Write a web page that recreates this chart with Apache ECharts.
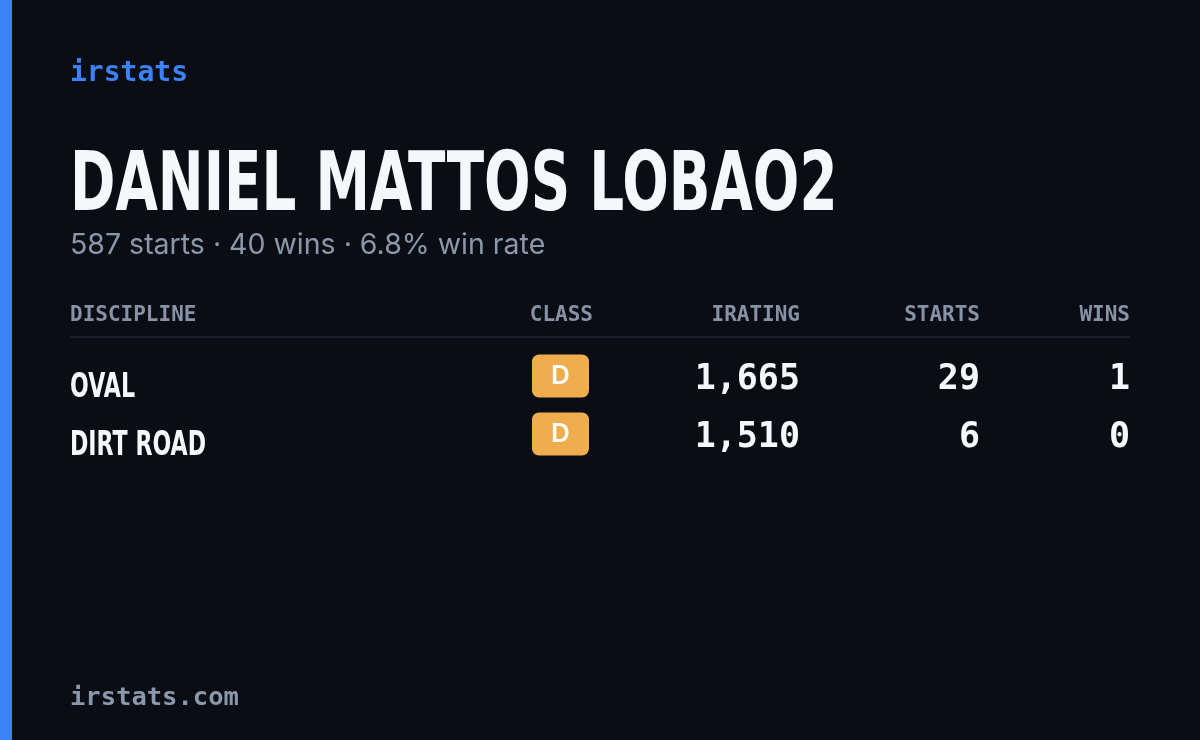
<!DOCTYPE html>
<html><head><meta charset="utf-8">
<script src="https://cdn.jsdelivr.net/npm/echarts@6/dist/echarts.min.js"></script>
<style>html,body{margin:0;padding:0;background:#0a0d14}#c{width:1200px;height:740px}</style>
</head><body><div id="c"></div>
<script>
const driverName = 'DANIEL MATTOS LOBAO2';
const summary = '587 starts · 40 wins · 6.8% win rate';
const columns = ['DISCIPLINE','CLASS','IRATING','STARTS','WINS'];
const disciplines = ['OVAL','DIRT ROAD'];
const classes = ['D','D'];
const iratings = [1665, 1510];
const starts = [29, 6];
const wins = [1, 0];

const MONO = '"DejaVu Sans Mono", "Liberation Mono", monospace';
const COND = '"DejaVu Sans", sans-serif';
const fmt = n => n.toLocaleString('en-US');
const hdr = (text, x, align) => ({type: 'text', x: x, y: 316, style: {text: text, font: 'bold 21px ' + MONO, fill: '#8792a6', align: align, verticalAlign: 'middle'}});

const chart = echarts.init(document.getElementById('c'));
chart.setOption({
  backgroundColor: '#0a0d14',
  animation: false,
  grid: {left: 70, right: 70, top: 355.5, height: 116},
  xAxis: {type: 'value', min: 0, max: 1, show: false},
  yAxis: {type: 'category', data: disciplines, inverse: true, show: false},
  graphic: [
    {type: 'rect', shape: {x: 0, y: 0, width: 12, height: 740}, style: {fill: '#3b82f6'}},
    {type: 'text', x: 70, y: 74, style: {text: 'irstats', font: 'bold 28px ' + MONO, fill: '#3b82f6', verticalAlign: 'middle'}},
    {type: 'text', x: 70, y: 189, scaleX: 0.668, style: {text: driverName, font: 'bold 82px ' + COND, fill: '#f5f7fa', verticalAlign: 'middle'}},
    {type: 'text', x: 70, y: 245, style: {text: summary, font: '28.5px Inter, "Noto Sans", sans-serif', fill: '#8b97ab', verticalAlign: 'middle'}},
    hdr(columns[0], 70, 'left'),
    hdr(columns[1], 593, 'right'),
    hdr(columns[2], 800, 'right'),
    hdr(columns[3], 980, 'right'),
    hdr(columns[4], 1130, 'right'),
    {type: 'rect', shape: {x: 70, y: 336, width: 1060, height: 2}, style: {fill: '#1a1f2b'}},
    {type: 'text', x: 70, y: 698, style: {text: 'irstats.com', font: 'bold 25.5px ' + MONO, fill: '#8b97ab', verticalAlign: 'middle'}}
  ],
  series: [{
    type: 'custom',
    data: disciplines.map((d, i) => [0, i]),
    renderItem: (params, api) => {
      const i = params.dataIndex;
      const y = api.coord([0, api.value(1)])[1];
      return {type: 'group', children: [
        {type: 'text', x: 70, y: y + 4, scaleX: 0.67, style: {x: 0, y: 0, text: disciplines[i], font: 'bold 33px ' + COND, fill: '#f5f7fa', verticalAlign: 'middle'}},
        {type: 'rect', shape: {x: 532, y: y - 30, width: 57, height: 43, r: 7}, style: {fill: '#f0ad4e'}},
        {type: 'text', style: {x: 560.5, y: y - 8.5, text: classes[i], font: '600 26px Inter, "Noto Sans", sans-serif', fill: '#ffffff', align: 'center', verticalAlign: 'middle'}},
        {type: 'text', style: {x: 800, y: y - 5, text: fmt(iratings[i]), font: 'bold 35px ' + MONO, fill: '#f5f7fa', align: 'right', verticalAlign: 'middle'}},
        {type: 'text', style: {x: 980, y: y - 5, text: String(starts[i]), font: 'bold 35px ' + MONO, fill: '#f5f7fa', align: 'right', verticalAlign: 'middle'}},
        {type: 'text', style: {x: 1130, y: y - 5, text: String(wins[i]), font: 'bold 35px ' + MONO, fill: '#f5f7fa', align: 'right', verticalAlign: 'middle'}}
      ]};
    }
  }]
});
</script></body></html>
